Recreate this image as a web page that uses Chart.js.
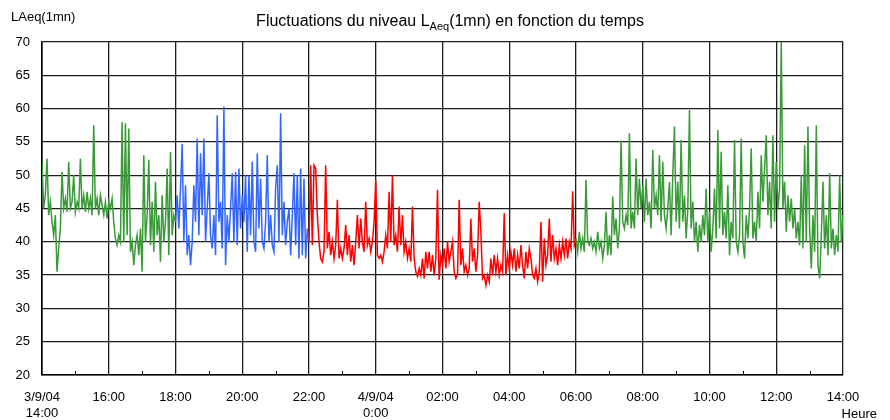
<!DOCTYPE html>
<html>
<head>
<meta charset="utf-8">
<script src="https://cdn.jsdelivr.net/npm/chart.js@4.4.1/dist/chart.umd.min.js"></script>
<style>
  html, body { margin: 0; padding: 0; background: #fff; }
  #wrap { width: 890px; height: 420px; }
</style>
</head>
<body>
<div id="wrap"><canvas id="laeqChart" width="890" height="420"></canvas></div>
<script>
// ==================== DONNEES ====================
// LAeq(1mn), une lecture toutes les 3 minutes, depart 3/9/04 14:00

const stepMinutes = 3;

// 14:00 -> 18:00
const greenAfternoon = [
    52, 45, 47, 52.5, 44, 46, 43, 41, 44, 35.5,
    39, 42, 50.5, 45, 46.5, 44.5, 52, 45, 46, 50,
    44.5, 46, 45, 52.5, 45, 47, 44.5, 47.5, 45, 46.5,
    44, 57.5, 45, 46.5, 44, 47, 45.5, 44, 46, 43.5,
    46, 45, 46.5, 43, 40.5, 39.5, 41, 40, 58, 40,
    57.8, 41, 57, 38.5, 40, 36.5, 39.5, 41, 38, 42,
    35.5, 53, 40, 44, 52.3, 39.5, 46, 38.5, 49, 41,
    44, 37, 47, 40, 43, 51, 38, 53.5, 41, 44
];

// 18:00 -> 22:00
const blueEvening = [
    43, 47, 42, 48, 54.7, 40, 48.5, 38, 41, 36.5,
    40, 48.5, 43, 55.5, 41, 53.3, 44, 55.5, 40, 45,
    50.3, 41, 39, 44, 38, 59, 43, 46, 39, 60.3,
    36.5, 44, 40, 45, 50.3, 40, 50.5, 39.5, 51, 42,
    47, 43, 50, 38.5, 50, 41, 52, 40, 38.5, 53.3,
    42, 49.5, 40, 39, 43, 53, 40, 44, 39.5, 38.5,
    48, 51.5, 40, 59.3, 41, 46, 39.5, 43, 45, 38,
    44, 50.3, 39.5, 50, 37.5, 51, 38, 49.5, 37.5, 42
];

// 22:00 -> 06:00
const redNight = [
    40, 51.5, 39.5, 51.5, 51, 44, 40, 37.5, 37, 38.5,
    51.5, 39, 41.5, 38, 40, 37.5, 39.5, 46.3, 37.5, 39,
    37.5, 39, 42.5, 38, 41, 37, 39.5, 36.5, 40, 44,
    39, 43.5, 40, 38.5, 46, 39.5, 40.5, 38.5, 40, 43,
    49.3, 38, 37.5, 38, 37, 38.5, 41, 39, 47.5, 40,
    50, 39.5, 41, 38.5, 45.3, 39.5, 44, 38.5, 40, 37.5,
    39, 37, 45.3, 37.5, 35.5, 34.8, 36, 35, 37.5, 34.5,
    38.5, 36, 38.5, 35.5, 38, 35, 37.5, 47.8, 34.3, 38,
    36.5, 39, 36, 40, 37, 38.5, 40, 35.5, 34.5, 35,
    46.3, 36.5, 39, 35.5, 36.5, 35, 36, 43.5, 37, 39,
    35.5, 38, 46, 41.5, 34.5, 35, 33.5, 35, 34, 37.5,
    35, 38, 35.5, 37.5, 35, 36.5, 35.5, 44.3, 35, 38,
    36, 38.5, 36.5, 39, 35.5, 38, 36, 39.5, 36.5, 34.5,
    38.5, 36, 39, 37.5, 35, 34.5, 36, 34, 35.5, 43,
    34, 40.5, 36.5, 38, 43.5, 37, 41, 37.5, 39, 36.5,
    39.5, 37.5, 40, 38, 40.5, 37.5, 40, 39, 47.6, 39.5
];

// 06:00 -> 14:00
const greenMorning = [
    40.5, 38.5, 41.5, 39, 40.5, 38.5, 49.3, 40, 39.5, 40.5,
    39, 40, 38.5, 41.5, 39, 40, 37.5, 39.5, 44.5, 38,
    41, 38, 46.8, 41, 43.5, 39, 42, 55.2, 43, 42,
    44, 42.5, 56.3, 42, 44.5, 42, 52.5, 44, 49.5, 45,
    48.5, 43, 49.5, 44, 46, 42, 53.8, 45, 47, 44,
    53, 43, 52, 44, 42, 45, 49, 41, 50, 57.3,
    43, 49, 42, 55.3, 43, 47, 40.5, 45, 59.8, 42,
    46, 40, 43, 38.5, 42.5, 40, 44, 41, 48, 40,
    44.5, 38.5, 42, 48, 40.5, 56.8, 42, 53.5, 41, 44.5,
    40.5, 48.5, 38, 43, 40.5, 55.3, 40, 38.5, 41, 55.5,
    40, 37.5, 44, 40.5, 45, 54, 40.5, 43, 40, 47.5,
    42, 53, 46, 51, 56, 44, 49, 42, 56, 43,
    52, 45, 48, 70, 45, 49, 41.5, 47, 43, 46.5,
    42, 45, 40.5, 43, 39.5, 50, 39, 54.5, 40, 57.3,
    42, 36, 44, 38.5, 57.5, 36.5, 34.5, 41, 49, 39,
    44, 38, 50.3, 39, 42, 38, 41, 38.5, 50, 40,
    44
];

const periodEnds = [240, 480, 960, 1440];     // minutes depuis 14:00
const periodColors = ['#3a9a38', '#3366ff', '#ff0000', '#3a9a38'];

const hourTicks = [0, 120, 240, 360, 480, 600, 720, 840, 960, 1080, 1200, 1320, 1440];
const hourLabels = [['3/9/04', '14:00'], '16:00', '18:00', '20:00', '22:00', ['4/9/04', '0:00'],
    '02:00', '04:00', '06:00', '08:00', '10:00', '12:00', '14:00'];
const levelTicks = [20, 25, 30, 35, 40, 45, 50, 55, 60, 65, 70];

const FONT = "'Liberation Sans', Arial, sans-serif";

// ==================== CONSTRUCTION ====================
const allValues = [].concat(greenAfternoon, blueEvening, redNight, greenMorning);
const points = allValues.map((v, i) => ({ x: i * stepMinutes, y: v }));

function colorAt(minute) {
    for (let i = 0; i < periodEnds.length; i++) {
        if (minute < periodEnds[i]) return periodColors[i];
    }
    return periodColors[periodColors.length - 1];
}

// titres, petites graduations horaires
const extrasPlugin = {
    id: 'extras',
    afterDraw(chart) {
        const ctx = chart.ctx;
        const area = chart.chartArea;
        const xs = chart.scales.x;

        // graduations secondaires (heures impaires)
        ctx.save();
        ctx.strokeStyle = '#000';
        ctx.lineWidth = 1;
        for (let i = 0; i < hourTicks.length - 1; i++) {
            const px = Math.round(xs.getPixelForValue((hourTicks[i] + hourTicks[i + 1]) / 2)) + 0.5;
            ctx.beginPath();
            ctx.moveTo(px, area.bottom);
            ctx.lineTo(px, area.bottom - 4);
            ctx.stroke();
        }
        ctx.restore();

        ctx.save();
        ctx.fillStyle = '#000';
        ctx.textBaseline = 'alphabetic';

        // axe Y
        ctx.font = '13px ' + FONT;
        ctx.textAlign = 'left';
        ctx.fillText('LAeq(1mn)', 11, 21);

        // axe X
        ctx.textAlign = 'right';
        ctx.fillText('Heure', 877, 418);

        // titre avec indice
        const partA = 'Fluctuations du niveau L';
        const sub = 'Aeq';
        const partB = '(1mn) en fonction du temps';
        ctx.textAlign = 'left';
        ctx.font = '16px ' + FONT;
        const wA = ctx.measureText(partA).width;
        const wB = ctx.measureText(partB).width;
        ctx.font = '11px ' + FONT;
        const wS = ctx.measureText(sub).width;
        let x = 450 - (wA + wS + wB) / 2;
        ctx.font = '16px ' + FONT;
        ctx.fillText(partA, x, 26);
        x += wA;
        ctx.font = '11px ' + FONT;
        ctx.fillText(sub, x, 30);
        x += wS;
        ctx.font = '16px ' + FONT;
        ctx.fillText(partB, x, 26);
        ctx.restore();
    }
};

const canvas = document.getElementById('laeqChart');
new Chart(canvas.getContext('2d'), {
    type: 'line',
    data: {
        datasets: [{
            data: points,
            borderWidth: 1.5,
            borderColor: periodColors[0],
            pointRadius: 0,
            tension: 0,
            fill: false,
            segment: {
                borderColor: c => colorAt(c.p0.parsed.x)
            }
        }]
    },
    options: {
        responsive: false,
        animation: false,
        parsing: false,
        normalized: true,
        layout: { padding: { top: 42, right: 47, left: 0, bottom: 0 } },
        plugins: {
            legend: { display: false },
            tooltip: { enabled: false },
            title: { display: false }
        },
        scales: {
            x: {
                type: 'linear',
                min: 0,
                max: 1440,
                afterBuildTicks: s => { s.ticks = hourTicks.map(v => ({ value: v })); },
                afterFit: s => { s.height = 45; },
                grid: { color: '#1e1e1e', lineWidth: 1.3, drawTicks: false },
                border: { color: '#000', width: 1.6 },
                ticks: {
                    autoSkip: false,
                    maxRotation: 0,
                    padding: 15,
                    color: '#000',
                    font: { family: FONT, size: 13 },
                    callback: (v, i) => hourLabels[i]
                }
            },
            y: {
                min: 20,
                max: 70,
                afterBuildTicks: s => { s.ticks = levelTicks.map(v => ({ value: v })); },
                afterFit: s => { s.width = 42; },
                grid: { color: '#1e1e1e', lineWidth: 1.3, drawTicks: false },
                border: { color: '#000', width: 1.6 },
                ticks: {
                    padding: 12,
                    color: '#000',
                    font: { family: FONT, size: 13 }
                }
            }
        }
    },
    plugins: [extrasPlugin]
});
</script>
</body>
</html>
